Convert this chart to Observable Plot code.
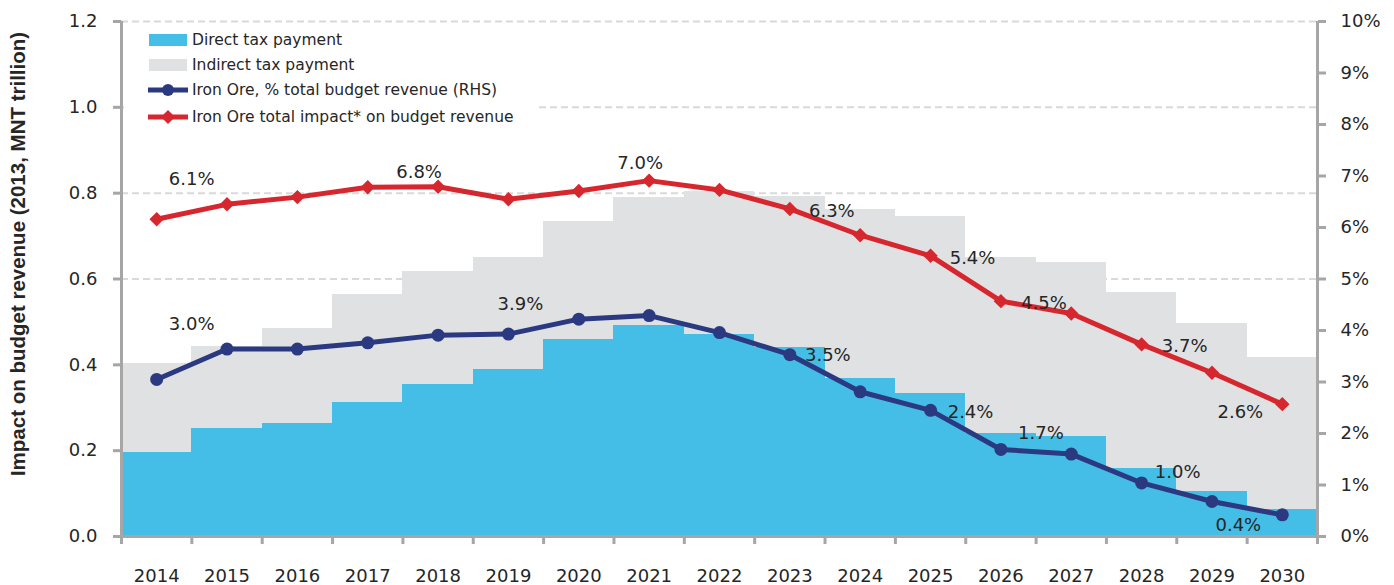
<!DOCTYPE html>
<html>
<head>
<meta charset="utf-8">
<script src="https://cdn.jsdelivr.net/npm/d3@7"></script>
<script src="https://cdn.jsdelivr.net/npm/@observablehq/plot@0.6"></script>
<style>
  body { margin: 0; background: #ffffff; }
  #wrap { position: relative; width: 1394px; height: 585px; overflow: hidden; font-family: "DejaVu Sans", sans-serif; color: #262626; }
  #chart svg { display: block; }
  .ytitle { position: absolute; left: 18px; top: 254px; transform: translate(-50%, -50%) rotate(-90deg);
            white-space: nowrap; font-family: "Liberation Sans", Arial, sans-serif; font-weight: bold; font-size: 20.5px; color: #262626; }
  .legend { position: absolute; left: 124px; top: 26px; width: 412px; height: 104px; background: #ffffff; }
  .lrow { position: absolute; left: 24px; height: 24px; display: flex; align-items: center; font-size: 15.5px; white-space: nowrap; }
  .lrow svg { margin-right: 4px; }
</style>
</head>
<body>
<div id="wrap">
  <div id="chart"></div>
</div>
<script>
// ---------- data ----------
const years = [2014, 2015, 2016, 2017, 2018, 2019, 2020, 2021, 2022, 2023, 2024, 2025, 2026, 2027, 2028, 2029, 2030];
const directTax   = [0.196, 0.251, 0.264, 0.312, 0.354, 0.389, 0.460, 0.491, 0.471, 0.440, 0.367, 0.333, 0.240, 0.234, 0.158, 0.104, 0.062];
const indirectTax = [0.207, 0.192, 0.221, 0.251, 0.264, 0.260, 0.273, 0.300, 0.334, 0.353, 0.395, 0.413, 0.410, 0.405, 0.410, 0.392, 0.355];
const pctBudgetRevenue = [3.05, 3.64, 3.64, 3.76, 3.91, 3.93, 4.22, 4.29, 3.96, 3.53, 2.81, 2.45, 1.69, 1.60, 1.04, 0.68, 0.42];
const totalImpact      = [6.16, 6.45, 6.59, 6.78, 6.79, 6.55, 6.71, 6.91, 6.73, 6.36, 5.85, 5.45, 4.57, 4.33, 3.73, 3.18, 2.57];
const seriesNames = ["Direct tax payment", "Indirect tax payment"];
const lineNames = ["Iron Ore, % total budget revenue (RHS)", "Iron Ore total impact* on budget revenue"];
const yTitle = "Impact on budget revenue (2013, MNT trillion)";
const leftTicks = [0, 0.2, 0.4, 0.6, 0.8, 1.0, 1.2];
const rightTicks = [0, 1, 2, 3, 4, 5, 6, 7, 8, 9, 10];
const impactLabelYears = [2014, 2018, 2021, 2023, 2025, 2026, 2028, 2030];
const impactLabels = ["6.1%", "6.8%", "7.0%", "6.3%", "5.4%", "4.5%", "3.7%", "2.6%"];
const pctLabelYears = [2014, 2019, 2023, 2025, 2026, 2028, 2030];
const pctLabels = ["3.0%", "3.9%", "3.5%", "2.4%", "1.7%", "1.0%", "0.4%"];

// ---------- styling ----------
const blue = "#45bee7", gray = "#e0e1e3", navy = "#2b3a80", red = "#d6272f";
const axisGray = "#a6a6a6", gridGray = "#d9d9d9", textColor = "#262626";
const impactOffsets = [[35, -40], [-19, -15], [-9, -17], [42, 2], [42, 2], [43, 2], [43, 2], [-42, 8]];
const pctOffsets = [[35, -55], [12, -30], [38, 1], [40, 2], [40, -16], [36, -11], [-44, 10]];
const leftMax = leftTicks[leftTicks.length - 1];
const rightMax = rightTicks[rightTicks.length - 1];
const pctToLeft = leftMax / rightMax; // secondary axis mapping

// ---------- tables ----------
const barData = [
  ...years.map((year, i) => ({year, series: seriesNames[0], value: directTax[i]})),
  ...years.map((year, i) => ({year, series: seriesNames[1], value: indirectTax[i]}))
];
const pctData = years.map((year, i) => ({year, v: pctBudgetRevenue[i]}));
const impactData = years.map((year, i) => ({year, v: totalImpact[i]}));
const xStart = years[0] - 0.5, xEnd = years[years.length - 1] + 0.5;
const bandEdges = [...years.map(y => y - 0.5), xEnd];

function labelMarks(labelYears, labels, values, offsets) {
  return labelYears.map((yr, i) => Plot.text([{year: yr, v: values[years.indexOf(yr)], t: labels[i]}], {
    x: "year", y: d => d.v * pctToLeft, text: "t",
    dx: offsets[i][0], dy: offsets[i][1],
    fill: textColor, fontSize: 18, textAnchor: "middle", lineAnchor: "middle"
  }));
}

const chart = Plot.plot({
  width: 1394, height: 585,
  marginLeft: 121, marginRight: 77, marginTop: 21, marginBottom: 49,
  x: {type: "linear", domain: [xStart, xEnd], label: null},
  y: {domain: [0, leftMax], label: null},
  color: {domain: seriesNames, range: [blue, gray]},
  style: {fontFamily: "DejaVu Sans, sans-serif", fontSize: "18px", color: textColor, background: "#ffffff"},
  marks: [
    Plot.gridY({ticks: leftTicks.slice(1), stroke: gridGray, strokeOpacity: 1, strokeWidth: 2, strokeDasharray: "7,4"}),
    Plot.rectY(barData, {x1: d => d.year - 0.5, x2: d => d.year + 0.5, y: "value", fill: "series", shapeRendering: "crispEdges"}),
    Plot.ruleX([xStart], {stroke: axisGray, strokeWidth: 3}),
    Plot.ruleX([xEnd], {stroke: axisGray, strokeWidth: 3}),
    Plot.ruleY([0], {stroke: axisGray, strokeWidth: 3}),
    Plot.axisY({ticks: leftTicks, anchor: "left", tickSize: 8, tickPadding: 16, tickFormat: d3.format(".1f"),
      stroke: axisGray, strokeWidth: 3, fill: textColor, fontSize: 18, label: null}),
    Plot.axisY({ticks: rightTicks.map(t => t * pctToLeft), anchor: "right", tickSize: 8, tickPadding: 15,
      tickFormat: d => `${Math.round(d / pctToLeft)}%`, stroke: axisGray, strokeWidth: 3, fill: textColor, fontSize: 18, label: null}),
    Plot.axisX({ticks: years, anchor: "bottom", tickSize: 0, tickPadding: 33, tickFormat: d => String(d), fill: textColor, fontSize: 18, label: null}),
    Plot.axisX({ticks: bandEdges, anchor: "bottom", tickSize: 8, tickFormat: () => "", stroke: axisGray, strokeWidth: 3, label: null}),
    Plot.line(pctData, {x: "year", y: d => d.v * pctToLeft, stroke: navy, strokeWidth: 5}),
    Plot.dot(pctData, {x: "year", y: d => d.v * pctToLeft, fill: navy, r: 6.5, symbol: "circle"}),
    Plot.line(impactData, {x: "year", y: d => d.v * pctToLeft, stroke: red, strokeWidth: 5}),
    Plot.dot(impactData, {x: "year", y: d => d.v * pctToLeft, fill: red, r: 6.5, symbol: "diamond2"}),
    ...labelMarks(impactLabelYears, impactLabels, totalImpact, impactOffsets),
    ...labelMarks(pctLabelYears, pctLabels, pctBudgetRevenue, pctOffsets)
  ]
});
document.getElementById("chart").appendChild(chart);

// y-axis title
const wrap = document.getElementById("wrap");
const t = document.createElement("div");
t.className = "ytitle";
t.textContent = yTitle;
wrap.appendChild(t);

// legend (inside plot area, top-left, white box)
const legend = document.createElement("div");
legend.className = "legend";
const rowTops = [2, 27, 52, 79];
const swatches = [
  `<svg width="40" height="14"><rect x="1" y="1" width="38" height="12" fill="${blue}"/></svg>`,
  `<svg width="40" height="14"><rect x="1" y="1" width="38" height="12" fill="${gray}"/></svg>`,
  `<svg width="40" height="14"><line x1="0" y1="7" x2="40" y2="7" stroke="${navy}" stroke-width="5"/><circle cx="20" cy="7" r="6" fill="${navy}"/></svg>`,
  `<svg width="40" height="16"><line x1="0" y1="8" x2="40" y2="8" stroke="${red}" stroke-width="5"/><path d="M20,1 L27,8 L20,15 L13,8 Z" fill="${red}"/></svg>`
];
const legendNames = [...seriesNames, ...lineNames];
legendNames.forEach((name, i) => {
  const row = document.createElement("div");
  row.className = "lrow";
  row.style.top = rowTops[i] + "px";
  row.innerHTML = swatches[i] + `<span>${name}</span>`;
  legend.appendChild(row);
});
wrap.appendChild(legend);
</script>
</body>
</html>
